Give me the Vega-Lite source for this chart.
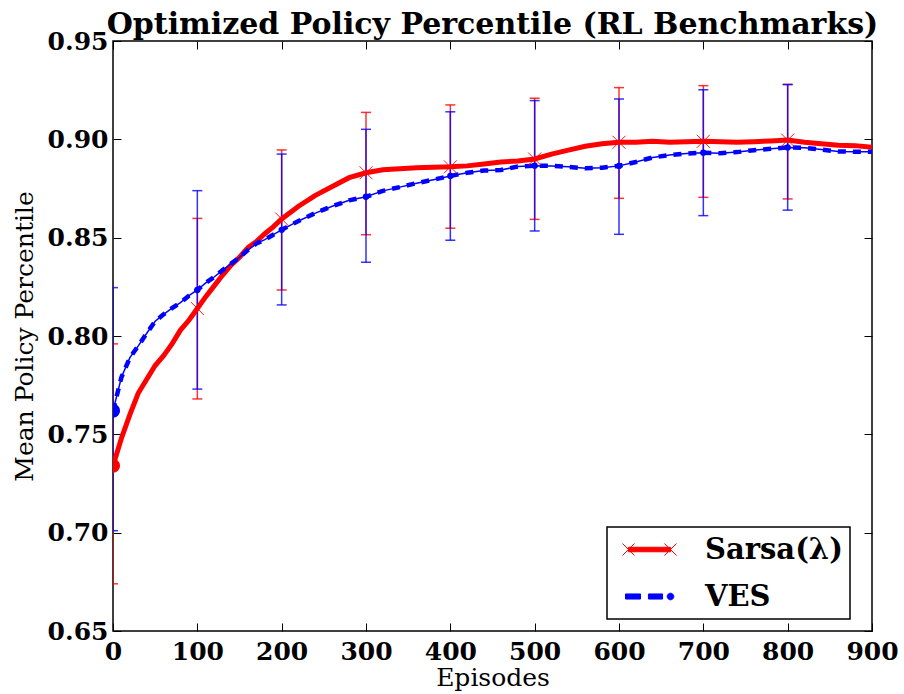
{
  "$schema": "https://vega.github.io/schema/vega-lite/v6.json",
  "width": 759,
  "height": 590,
  "autosize": {"type": "none"},
  "padding": {"left": 113, "top": 41, "right": 32, "bottom": 63},
  "background": "white",
  "title": {"text": "Optimized Policy Percentile (RL Benchmarks)", "font": "DejaVu Serif", "fontSize": 30, "fontWeight": "bold", "color": "black", "anchor": "middle", "frame": "group", "offset": -41, "baseline": "bottom"},
  "config": {
    "view": {"stroke": "black", "strokeWidth": 1.5},
    "axis": {"labelFont": "DejaVu Serif", "labelFontWeight": "bold", "labelFontSize": 25, "labelColor": "black", "titleFont": "DejaVu Serif", "titleFontWeight": "normal", "titleFontSize": 25, "titleColor": "black", "tickColor": "black", "tickWidth": 1, "grid": false, "domain": false, "labelFlush": false, "labelOverlap": false, "labelBound": false}
  },
  "datasets": {
    "curves": [
      {"series": "Sarsa(λ)", "episode": 0, "value": 0.734},
      {"series": "Sarsa(λ)", "episode": 10, "value": 0.748},
      {"series": "Sarsa(λ)", "episode": 20, "value": 0.76},
      {"series": "Sarsa(λ)", "episode": 30, "value": 0.771},
      {"series": "Sarsa(λ)", "episode": 40, "value": 0.778},
      {"series": "Sarsa(λ)", "episode": 50, "value": 0.785},
      {"series": "Sarsa(λ)", "episode": 60, "value": 0.79},
      {"series": "Sarsa(λ)", "episode": 70, "value": 0.796},
      {"series": "Sarsa(λ)", "episode": 80, "value": 0.803},
      {"series": "Sarsa(λ)", "episode": 90, "value": 0.808},
      {"series": "Sarsa(λ)", "episode": 100, "value": 0.814},
      {"series": "Sarsa(λ)", "episode": 110, "value": 0.82},
      {"series": "Sarsa(λ)", "episode": 120, "value": 0.8255},
      {"series": "Sarsa(λ)", "episode": 130, "value": 0.831},
      {"series": "Sarsa(λ)", "episode": 140, "value": 0.836},
      {"series": "Sarsa(λ)", "episode": 150, "value": 0.84},
      {"series": "Sarsa(λ)", "episode": 160, "value": 0.845},
      {"series": "Sarsa(λ)", "episode": 170, "value": 0.848},
      {"series": "Sarsa(λ)", "episode": 180, "value": 0.852},
      {"series": "Sarsa(λ)", "episode": 190, "value": 0.8555},
      {"series": "Sarsa(λ)", "episode": 200, "value": 0.8595},
      {"series": "Sarsa(λ)", "episode": 220, "value": 0.866},
      {"series": "Sarsa(λ)", "episode": 240, "value": 0.8715},
      {"series": "Sarsa(λ)", "episode": 260, "value": 0.876},
      {"series": "Sarsa(λ)", "episode": 280, "value": 0.8805},
      {"series": "Sarsa(λ)", "episode": 300, "value": 0.883},
      {"series": "Sarsa(λ)", "episode": 320, "value": 0.8845},
      {"series": "Sarsa(λ)", "episode": 340, "value": 0.885},
      {"series": "Sarsa(λ)", "episode": 360, "value": 0.8855},
      {"series": "Sarsa(λ)", "episode": 380, "value": 0.8858},
      {"series": "Sarsa(λ)", "episode": 400, "value": 0.886},
      {"series": "Sarsa(λ)", "episode": 420, "value": 0.8865},
      {"series": "Sarsa(λ)", "episode": 440, "value": 0.8875},
      {"series": "Sarsa(λ)", "episode": 460, "value": 0.8885},
      {"series": "Sarsa(λ)", "episode": 480, "value": 0.889},
      {"series": "Sarsa(λ)", "episode": 500, "value": 0.89},
      {"series": "Sarsa(λ)", "episode": 520, "value": 0.8925},
      {"series": "Sarsa(λ)", "episode": 540, "value": 0.8945},
      {"series": "Sarsa(λ)", "episode": 560, "value": 0.8965},
      {"series": "Sarsa(λ)", "episode": 580, "value": 0.8978},
      {"series": "Sarsa(λ)", "episode": 600, "value": 0.8985},
      {"series": "Sarsa(λ)", "episode": 620, "value": 0.8985},
      {"series": "Sarsa(λ)", "episode": 640, "value": 0.899},
      {"series": "Sarsa(λ)", "episode": 660, "value": 0.8985},
      {"series": "Sarsa(λ)", "episode": 680, "value": 0.8988},
      {"series": "Sarsa(λ)", "episode": 700, "value": 0.899},
      {"series": "Sarsa(λ)", "episode": 720, "value": 0.8988},
      {"series": "Sarsa(λ)", "episode": 740, "value": 0.8985},
      {"series": "Sarsa(λ)", "episode": 760, "value": 0.8988},
      {"series": "Sarsa(λ)", "episode": 780, "value": 0.8992},
      {"series": "Sarsa(λ)", "episode": 800, "value": 0.8996},
      {"series": "Sarsa(λ)", "episode": 820, "value": 0.8985},
      {"series": "Sarsa(λ)", "episode": 840, "value": 0.8978},
      {"series": "Sarsa(λ)", "episode": 860, "value": 0.897},
      {"series": "Sarsa(λ)", "episode": 880, "value": 0.8968},
      {"series": "Sarsa(λ)", "episode": 900, "value": 0.896},
      {"series": "VES", "episode": 0, "value": 0.762},
      {"series": "VES", "episode": 10, "value": 0.779},
      {"series": "VES", "episode": 20, "value": 0.789},
      {"series": "VES", "episode": 30, "value": 0.795},
      {"series": "VES", "episode": 40, "value": 0.8014},
      {"series": "VES", "episode": 50, "value": 0.8075},
      {"series": "VES", "episode": 60, "value": 0.811},
      {"series": "VES", "episode": 70, "value": 0.8142},
      {"series": "VES", "episode": 80, "value": 0.817},
      {"series": "VES", "episode": 90, "value": 0.8205},
      {"series": "VES", "episode": 100, "value": 0.8234},
      {"series": "VES", "episode": 110, "value": 0.827},
      {"series": "VES", "episode": 120, "value": 0.83},
      {"series": "VES", "episode": 130, "value": 0.8335},
      {"series": "VES", "episode": 140, "value": 0.8368},
      {"series": "VES", "episode": 150, "value": 0.84},
      {"series": "VES", "episode": 160, "value": 0.8437},
      {"series": "VES", "episode": 170, "value": 0.847},
      {"series": "VES", "episode": 180, "value": 0.849},
      {"series": "VES", "episode": 190, "value": 0.8515},
      {"series": "VES", "episode": 200, "value": 0.854},
      {"series": "VES", "episode": 220, "value": 0.8585},
      {"series": "VES", "episode": 240, "value": 0.8625},
      {"series": "VES", "episode": 260, "value": 0.866},
      {"series": "VES", "episode": 280, "value": 0.869},
      {"series": "VES", "episode": 300, "value": 0.8708},
      {"series": "VES", "episode": 320, "value": 0.8738},
      {"series": "VES", "episode": 340, "value": 0.8757},
      {"series": "VES", "episode": 360, "value": 0.8777},
      {"series": "VES", "episode": 380, "value": 0.8795},
      {"series": "VES", "episode": 400, "value": 0.8814},
      {"series": "VES", "episode": 420, "value": 0.883},
      {"series": "VES", "episode": 440, "value": 0.8841},
      {"series": "VES", "episode": 460, "value": 0.8844},
      {"series": "VES", "episode": 480, "value": 0.8862},
      {"series": "VES", "episode": 500, "value": 0.8866},
      {"series": "VES", "episode": 520, "value": 0.8865},
      {"series": "VES", "episode": 540, "value": 0.886},
      {"series": "VES", "episode": 560, "value": 0.8853},
      {"series": "VES", "episode": 580, "value": 0.8856},
      {"series": "VES", "episode": 600, "value": 0.8865},
      {"series": "VES", "episode": 620, "value": 0.8885},
      {"series": "VES", "episode": 640, "value": 0.8908},
      {"series": "VES", "episode": 660, "value": 0.892},
      {"series": "VES", "episode": 680, "value": 0.8928},
      {"series": "VES", "episode": 700, "value": 0.8932},
      {"series": "VES", "episode": 720, "value": 0.8929},
      {"series": "VES", "episode": 740, "value": 0.8935},
      {"series": "VES", "episode": 760, "value": 0.8945},
      {"series": "VES", "episode": 780, "value": 0.8952},
      {"series": "VES", "episode": 800, "value": 0.8959},
      {"series": "VES", "episode": 820, "value": 0.8957},
      {"series": "VES", "episode": 840, "value": 0.8948},
      {"series": "VES", "episode": 860, "value": 0.8938},
      {"series": "VES", "episode": 880, "value": 0.8937},
      {"series": "VES", "episode": 900, "value": 0.8937}
    ],
    "bars": [
      {"series": "Sarsa(λ)", "episode": 0, "mean": 0.734, "lo": 0.674, "hi": 0.796},
      {"series": "Sarsa(λ)", "episode": 100, "mean": 0.814, "lo": 0.768, "hi": 0.8598},
      {"series": "Sarsa(λ)", "episode": 200, "mean": 0.8595, "lo": 0.8234, "hi": 0.8946},
      {"series": "Sarsa(λ)", "episode": 300, "mean": 0.883, "lo": 0.8515, "hi": 0.9137},
      {"series": "Sarsa(λ)", "episode": 400, "mean": 0.886, "lo": 0.8548, "hi": 0.9175},
      {"series": "Sarsa(λ)", "episode": 500, "mean": 0.89, "lo": 0.8593, "hi": 0.9209},
      {"series": "Sarsa(λ)", "episode": 600, "mean": 0.8985, "lo": 0.87, "hi": 0.9263},
      {"series": "Sarsa(λ)", "episode": 700, "mean": 0.899, "lo": 0.8705, "hi": 0.9273},
      {"series": "Sarsa(λ)", "episode": 800, "mean": 0.8996, "lo": 0.8697, "hi": 0.928},
      {"series": "VES", "episode": 0, "mean": 0.762, "lo": 0.701, "hi": 0.8246},
      {"series": "VES", "episode": 100, "mean": 0.8234, "lo": 0.773, "hi": 0.8739},
      {"series": "VES", "episode": 200, "mean": 0.854, "lo": 0.8158, "hi": 0.8925},
      {"series": "VES", "episode": 300, "mean": 0.8708, "lo": 0.8375, "hi": 0.9051},
      {"series": "VES", "episode": 400, "mean": 0.8814, "lo": 0.8487, "hi": 0.914},
      {"series": "VES", "episode": 500, "mean": 0.8866, "lo": 0.8534, "hi": 0.9197},
      {"series": "VES", "episode": 600, "mean": 0.8865, "lo": 0.8517, "hi": 0.9205},
      {"series": "VES", "episode": 700, "mean": 0.8932, "lo": 0.8612, "hi": 0.9252},
      {"series": "VES", "episode": 800, "mean": 0.8959, "lo": 0.864, "hi": 0.9278}
    ]
  },
  "layer": [
    {
      "data": {"name": "bars"},
      "transform": [{"filter": "datum.series === 'Sarsa(λ)'"}],
      "mark": {"type": "rule", "color": "#ff0000", "strokeWidth": 1.5, "opacity": 0.8, "clip": true},
      "encoding": {
        "x": {"field": "episode", "type": "quantitative", "axis": null},
        "y": {"field": "lo", "type": "quantitative", "axis": null},
        "y2": {"field": "hi"}
      }
    },
    {
      "data": {"name": "bars"},
      "transform": [{"filter": "datum.series === 'Sarsa(λ)'"}, {"fold": ["lo", "hi"], "as": ["end", "cap"]}],
      "mark": {"type": "tick", "orient": "horizontal", "color": "#ff0000", "size": 10, "thickness": 1.5, "opacity": 0.8, "clip": true},
      "encoding": {
        "x": {"field": "episode", "type": "quantitative", "axis": null},
        "y": {"field": "cap", "type": "quantitative", "axis": null}
      }
    },
    {
      "data": {"name": "bars"},
      "transform": [{"filter": "datum.series === 'VES'"}],
      "mark": {"type": "rule", "color": "#0000ff", "strokeWidth": 1.5, "opacity": 0.8, "clip": true},
      "encoding": {
        "x": {"field": "episode", "type": "quantitative", "axis": null},
        "y": {"field": "lo", "type": "quantitative", "axis": null},
        "y2": {"field": "hi"}
      }
    },
    {
      "data": {"name": "bars"},
      "transform": [{"filter": "datum.series === 'VES'"}, {"fold": ["lo", "hi"], "as": ["end", "cap"]}],
      "mark": {"type": "tick", "orient": "horizontal", "color": "#0000ff", "size": 10, "thickness": 1.5, "opacity": 0.8, "clip": true},
      "encoding": {
        "x": {"field": "episode", "type": "quantitative", "axis": null},
        "y": {"field": "cap", "type": "quantitative", "axis": null}
      }
    },
    {
      "data": {"name": "curves"},
      "transform": [{"filter": "datum.series === 'Sarsa(λ)'"}],
      "mark": {"type": "line", "strokeWidth": 5, "clip": true},
      "encoding": {
        "x": {"field": "episode", "type": "quantitative", "scale": {"domain": [0, 900], "nice": false, "zero": false},
          "axis": {"orient": "bottom", "values": [0, 100, 200, 300, 400, 500, 600, 700, 800, 900], "format": "d", "tickSize": -8, "labelPadding": 16, "title": "Episodes", "titlePadding": 1}},
        "y": {"field": "value", "type": "quantitative", "scale": {"domain": [0.65, 0.95], "nice": false, "zero": false},
          "axis": {"orient": "left", "values": [0.65, 0.7, 0.75, 0.8, 0.85, 0.9, 0.95], "format": ".2f", "tickSize": -8, "labelPadding": 13, "title": "Mean Policy Percentile", "titlePadding": 10}},
        "color": {"field": "series", "type": "nominal",
          "scale": {"domain": ["Sarsa(λ)", "VES"], "range": ["#ff0000", "#0000ff"]},
          "legend": {
            "title": null, "orient": "none", "legendX": 494, "legendY": 486,
            "padding": 7, "fillColor": "white", "strokeColor": "black",
            "labelFont": "DejaVu Serif", "labelFontWeight": "bold", "labelFontSize": 29, "labelColor": "black",
            "labelLimit": 300,
            "symbolSize": 900, "symbolOffset": 20, "labelOffset": 40, "rowPadding": 16,
            "encode": {
              "legend": {"update": {"strokeWidth": {"value": 1.5}}},
              "symbols": {"update": {
                "shape": {"signal": "datum.value === 'VES' ? 'M-1.6,-0.17H-0.6V0.17H-1.6Z M-0.07,-0.17H0.87V0.17H-0.07Z M1.18,0A0.22,0.22 0 1,0 1.62,0A0.22,0.22 0 1,0 1.18,0Z' : 'M-1.4,-0.15H1.4V0.15H-1.4Z M-1.8,-0.4L-1,0.4M-1.8,0.4L-1,-0.4 M1,-0.4L1.8,0.4M1,0.4L1.8,-0.4'"},
                "fill": {"signal": "datum.value === 'VES' ? '#0000ff' : '#ff0000'"},
                "stroke": {"signal": "datum.value === 'VES' ? '#0000ff' : '#ff0000'"},
                "strokeWidth": {"value": 1},
                "strokeDash": {"value": []},
                "opacity": {"value": 1},
                "fillOpacity": {"value": 1}
              }}
            }
          }}
      }
    },
    {
      "data": {"name": "curves"},
      "transform": [{"filter": "datum.series === 'VES'"}],
      "mark": {"type": "line", "color": "#0000ff", "strokeWidth": 1.5, "clip": true},
      "encoding": {
        "x": {"field": "episode", "type": "quantitative",
          "axis": {"orient": "top", "values": [0, 100, 200, 300, 400, 500, 600, 700, 800, 900], "tickSize": -8, "labels": false, "title": null, "minExtent": 0, "maxExtent": 0}},
        "y": {"field": "value", "type": "quantitative",
          "axis": {"orient": "right", "values": [0.65, 0.7, 0.75, 0.8, 0.85, 0.9, 0.95], "tickSize": -8, "labels": false, "title": null, "minExtent": 0, "maxExtent": 0}}
      }
    },
    {
      "data": {"name": "curves"},
      "transform": [{"filter": "datum.series === 'VES'"}],
      "mark": {"type": "line", "color": "#0000ff", "strokeWidth": 4.5, "strokeDash": [8, 7], "clip": true},
      "encoding": {
        "x": {"field": "episode", "type": "quantitative", "axis": null},
        "y": {"field": "value", "type": "quantitative", "axis": null}
      }
    },
    {
      "data": {"name": "bars"},
      "transform": [{"filter": "datum.series === 'Sarsa(λ)' && datum.episode > 0"}],
      "mark": {"type": "point", "shape": "M-1,-1L1,1M-1,1L1,-1", "size": 169, "filled": false, "color": "#ff0000", "strokeWidth": 1, "opacity": 0.9, "clip": true},
      "encoding": {
        "x": {"field": "episode", "type": "quantitative", "axis": null},
        "y": {"field": "mean", "type": "quantitative", "axis": null}
      }
    },
    {
      "data": {"name": "bars"},
      "transform": [{"filter": "datum.series === 'VES' && datum.episode > 0"}],
      "mark": {"type": "circle", "size": 40, "color": "#0000ff", "opacity": 1, "clip": true},
      "encoding": {
        "x": {"field": "episode", "type": "quantitative", "axis": null},
        "y": {"field": "mean", "type": "quantitative", "axis": null}
      }
    },
    {
      "data": {"name": "bars"},
      "transform": [{"filter": "datum.series === 'Sarsa(λ)' && datum.episode === 0"}],
      "mark": {"type": "circle", "size": 200, "color": "#ff0000", "opacity": 1, "clip": true},
      "encoding": {
        "x": {"field": "episode", "type": "quantitative", "axis": null},
        "y": {"field": "mean", "type": "quantitative", "axis": null}
      }
    },
    {
      "data": {"name": "bars"},
      "transform": [{"filter": "datum.series === 'VES' && datum.episode === 0"}],
      "mark": {"type": "circle", "size": 200, "color": "#0000ff", "opacity": 1, "clip": true},
      "encoding": {
        "x": {"field": "episode", "type": "quantitative", "axis": null},
        "y": {"field": "mean", "type": "quantitative", "axis": null}
      }
    }
  ]
}
